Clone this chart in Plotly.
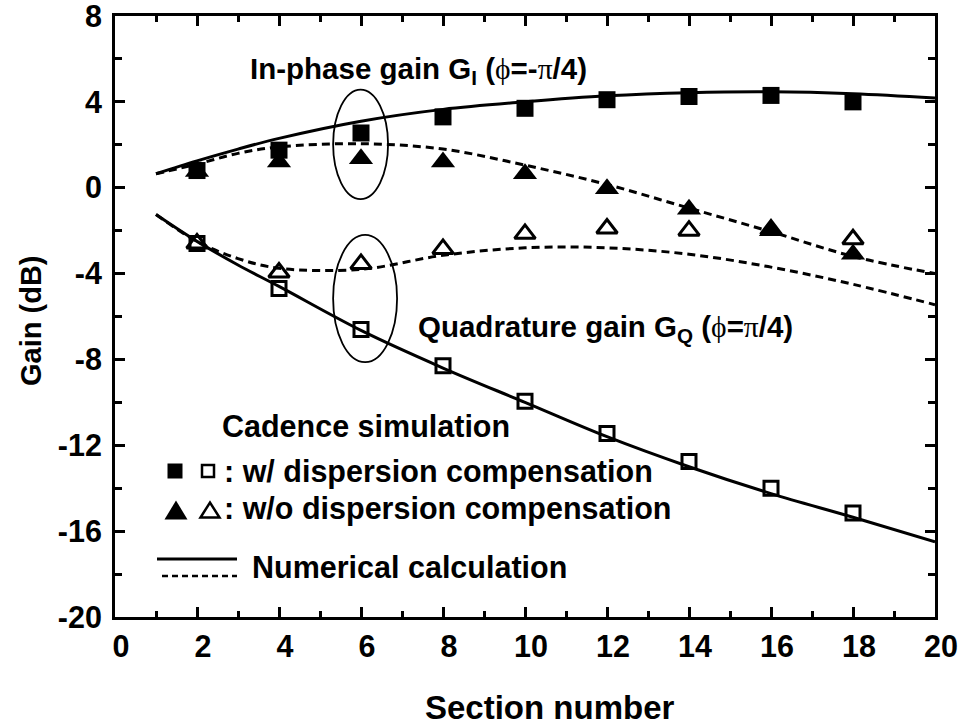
import plotly.graph_objects as go

# ---------------- data ----------------
sections = [2, 4, 6, 8, 10, 12, 14, 16, 18]
gi_with_comp = [0.8, 1.75, 2.55, 3.3, 3.7, 4.1, 4.25, 4.3, 4.0]          # filled squares
gi_without_comp = [0.75, 1.2, 1.35, 1.2, 0.65, -0.05, -1.0, -2.0, -3.1]  # filled triangles
gq_with_comp = [-2.6, -4.7, -6.6, -8.3, -9.95, -11.45, -12.75, -14.0, -15.15]  # open squares
gq_without_comp = [-2.6, -3.95, -3.55, -2.85, -2.15, -1.9, -2.0, -1.95, -2.4]  # open triangles

calc_x = [1, 2, 3, 4, 6, 8, 10, 12, 14, 16, 18, 20]
calc_gi_with = [0.65, 1.25, 1.8, 2.3, 3.1, 3.65, 4.0, 4.28, 4.43, 4.47, 4.38, 4.18]
calc_gi_without = [0.65, 1.1, 1.6, 1.9, 2.05, 1.8, 1.05, 0.15, -0.95, -2.05, -3.2, -4.0]
calc_gq_with = [-1.25, -2.5, -3.6, -4.6, -6.65, -8.4, -10.0, -11.6, -13.0, -14.25, -15.35, -16.5]
calc_gq_without = [-1.25, -2.5, -3.3, -3.75, -3.8, -3.15, -2.8, -2.8, -3.1, -3.7, -4.5, -5.45]

x_tickvals = [0, 2, 4, 6, 8, 10, 12, 14, 16, 18, 20]
x_ticktext = ["0", "2", "4", "6", "8", "10", "12", "14", "16", "18", "20"]
y_tickvals = [8, 4, 0, -4, -8, -12, -16, -20]
y_ticktext = ["8", "4", "0", "-4", "-8", "-12", "-16", "-20"]

# ---------------- layout geometry ----------------
W, H = 965, 727
ML, MR, MT, MB = 115, 30, 16, 110
PW, PH = W - ML - MR, H - MT - MB
FONT = "Liberation Sans, Arial, sans-serif"


def px(xpix):
    return (xpix - ML) / PW


def py(ypix):
    return (H - MB - ypix) / PH


fig = go.Figure()

line_w = 3
dash = "8px,5px"
for ys, d in [(calc_gi_with, "solid"), (calc_gi_without, dash),
              (calc_gq_with, "solid"), (calc_gq_without, dash)]:
    fig.add_trace(go.Scatter(x=calc_x, y=ys, mode="lines",
                             line=dict(color="black", width=line_w, dash=d, shape="spline", smoothing=1.0),
                             showlegend=False, hoverinfo="skip"))

fig.add_trace(go.Scatter(x=sections, y=gq_with_comp, mode="markers",
                         marker=dict(symbol="square-open", size=14, color="black", line=dict(width=3, color="black")),
                         showlegend=False))
fig.add_trace(go.Scatter(x=sections, y=gq_without_comp, mode="markers",
                         marker=dict(symbol="triangle-up-open", size=18, color="black", line=dict(width=3, color="black")),
                         showlegend=False))
fig.add_trace(go.Scatter(x=sections, y=gi_without_comp, mode="markers",
                         marker=dict(symbol="triangle-up", size=21, color="black", line=dict(width=0)),
                         showlegend=False))
fig.add_trace(go.Scatter(x=sections, y=gi_with_comp, mode="markers",
                         marker=dict(symbol="square", size=17, color="black", line=dict(width=0)),
                         showlegend=False))

shapes = []
# ellipses
shapes.append(dict(type="circle", xref="x", yref="y", x0=5.32, x1=6.66, y0=-0.53, y1=4.57,
                   line=dict(color="black", width=1.8)))
shapes.append(dict(type="circle", xref="x", yref="y", x0=5.32, x1=6.88, y0=-8.13, y1=-2.2,
                   line=dict(color="black", width=1.8)))


def rect(cx, cy, s, filled, lw=2.5):
    d = dict(type="rect", xref="paper", yref="paper",
             x0=px(cx - s / 2), x1=px(cx + s / 2), y0=py(cy + s / 2), y1=py(cy - s / 2),
             line=dict(color="black", width=0 if filled else lw))
    if filled:
        d["fillcolor"] = "black"
    return d


def tri(cx, cy, w, h, filled, lw=2.5):
    path = "M {:.5f} {:.5f} L {:.5f} {:.5f} L {:.5f} {:.5f} Z".format(
        px(cx - w / 2), py(cy + h / 2), px(cx + w / 2), py(cy + h / 2), px(cx), py(cy - h / 2))
    d = dict(type="path", xref="paper", yref="paper", path=path,
             line=dict(color="black", width=0 if filled else lw))
    if filled:
        d["fillcolor"] = "black"
    return d


shapes.append(rect(175, 471, 15, True))
shapes.append(rect(208, 471, 12, False))
shapes.append(tri(176, 510, 23, 19, True))
shapes.append(tri(210, 510, 19, 15, False))
shapes.append(dict(type="line", xref="paper", yref="paper", x0=px(157), x1=px(237), y0=py(559), y1=py(559),
                   line=dict(color="black", width=3)))
shapes.append(dict(type="line", xref="paper", yref="paper", x0=px(162), x1=px(237), y0=py(576), y1=py(576),
                   line=dict(color="black", width=2.5, dash="6px,4px")))


def ann(text, xpix, ypix, size=30.5, xanchor="left", angle=0):
    return dict(text=text, xref="paper", yref="paper", x=px(xpix), y=py(ypix),
                xanchor=xanchor, yanchor="middle", showarrow=False, textangle=angle,
                font=dict(family=FONT, size=size, color="black", weight="bold"))


phi = '<span style="font-family:Liberation Serif;font-weight:normal">ϕ</span>'
pi = '<span style="font-family:Liberation Serif;font-weight:normal">π</span>'
annotations = [
    ann("In-phase gain G<sub>I</sub> (" + phi + "=-" + pi + "/4)", 248, 70, size=29.5),
    ann("Quadrature gain G<sub>Q</sub> (" + phi + "=" + pi + "/4)", 416, 328, size=29.5),
    ann("Cadence simulation", 220, 426),
    ann(": w/ dispersion compensation", 222, 471),
    ann(": w/o dispersion compensation", 222, 509),
    ann("Numerical calculation", 250, 567),
    # axis titles
    ann("Section number", 550, 707, size=33, xanchor="center"),
    ann("Gain (dB)", 31, 321, size=29, xanchor="center", angle=-90),
]

axis_common = dict(showline=True, linewidth=3, linecolor="black", mirror="allticks",
                   ticks="inside", ticklen=10, tickwidth=3, tickcolor="black",
                   showgrid=False, zeroline=False, ticklabeloverflow="allow", automargin=False,
                   tickfont=dict(family=FONT, size=30.5, color="black", weight="bold"))

fig.update_layout(
    width=W, height=H,
    margin=dict(l=ML, r=MR, t=MT, b=MB),
    paper_bgcolor="white", plot_bgcolor="white",
    shapes=shapes, annotations=annotations,
    xaxis=dict(range=[0, 20], tickvals=x_tickvals, ticktext=x_ticktext, ticklabelshift=6,
               minor=dict(dtick=1, ticklen=6, tickwidth=2.5, ticks="inside", tickcolor="black"),
               **axis_common),
    yaxis=dict(range=[-20, 8], tickvals=y_tickvals, ticktext=y_ticktext, ticklabelstandoff=4,
               minor=dict(dtick=2, ticklen=7, tickwidth=2.5, ticks="inside", tickcolor="black"),
               **axis_common),
)

fig.write_html("out.html")
